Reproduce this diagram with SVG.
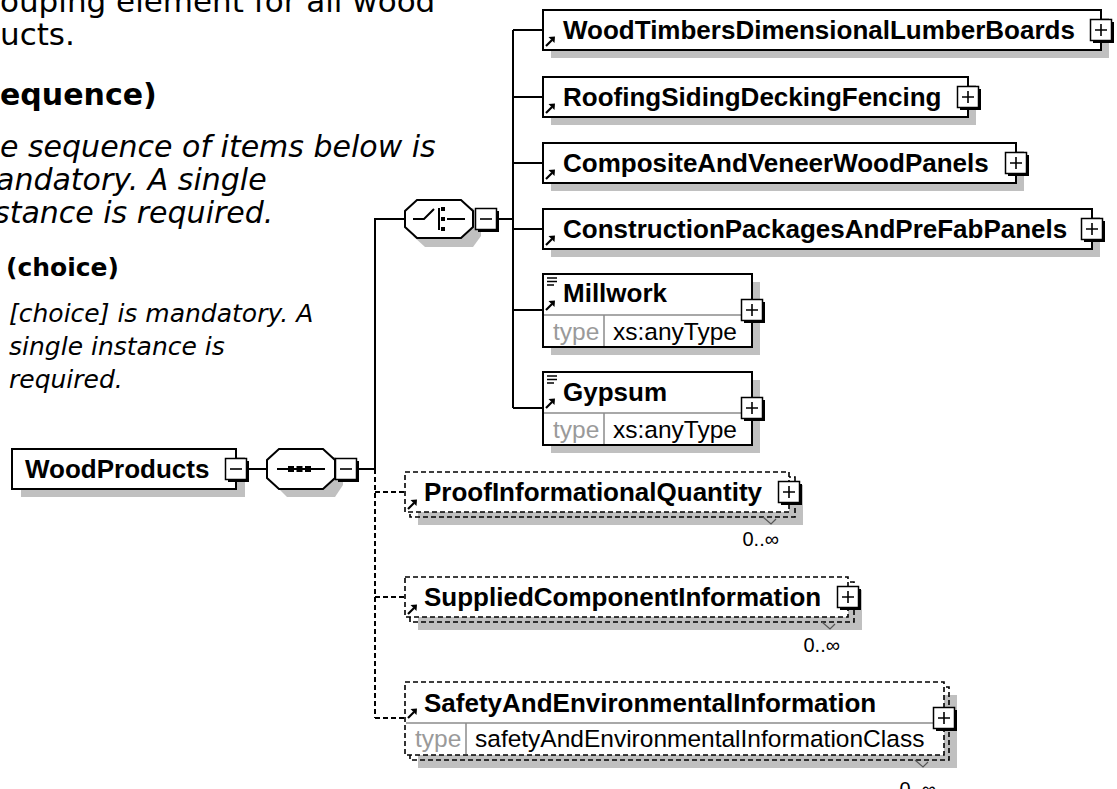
<svg xmlns="http://www.w3.org/2000/svg" width="1117" height="789" viewBox="0 0 1117 789">
<style>
.bg{fill:#fff}
.sh{fill:#c0c0c0}
.box{fill:#fff;stroke:#000;stroke-width:2}
.opt{fill:#fff;stroke:#000;stroke-width:1.6;stroke-dasharray:5 3}
.optb{fill:none;stroke:#000;stroke-width:1.6;stroke-dasharray:5 3}
.div{stroke:#8c8c8c;stroke-width:1.5;fill:none}
.name{font-family:"Liberation Sans",Arial,sans-serif;font-weight:bold;font-size:26px;fill:#000}
.tl{font-family:"Liberation Sans",Arial,sans-serif;font-size:24.5px;fill:#9a9a9a}
.tv{font-family:"Liberation Sans",Arial,sans-serif;font-size:24.5px;fill:#000}
.mul{font-family:"Liberation Sans",Arial,sans-serif;font-size:20px;fill:#000}
.conn{stroke:#000;stroke-width:2;fill:none}
.dash{stroke:#000;stroke-width:2;fill:none;stroke-dasharray:5 3}
.tick{stroke:#555;stroke-width:1.2;fill:none}
.d{font-family:"DejaVu Sans",Verdana,sans-serif;fill:#000}
.d31{font-size:31px}
.d30{font-size:30px}
.d25{font-size:25px}
.b{font-weight:bold}
.i{font-style:italic}
</style>
<defs>
<g id="btn"><rect x="-8" y="-8" width="21" height="21" fill="#000"/><rect x="-10.5" y="-10.5" width="21" height="21" fill="#fff" stroke="#000" stroke-width="1.5"/></g>
<g id="plus"><use href="#btn"/><path d="M-6,0H6M0,-6V6" stroke="#000" stroke-width="1.6"/></g>
<g id="minus"><use href="#btn"/><path d="M-6,0H6" stroke="#000" stroke-width="1.6"/></g>
<g id="arr"><path d="M1,10 L7,4" stroke="#000" stroke-width="2.2"/><path d="M3.5,1 L10,0.5 L9.5,7 Z" fill="#000"/></g>
<g id="doc"><path d="M0,0H10M0,3.5H10M0,7H7" stroke="#000" stroke-width="1.5"/></g>
</defs>
<rect class="bg" x="0" y="0" width="1117" height="789"/>

<g id="description">
<text class="d d31" x="0" y="12">ouping element for all wood</text>
<text class="d d31" x="0" y="45">ucts.</text>
<text class="d d30 b" x="0" y="105">equence)</text>
<text class="d d30 i" x="0" y="157">e sequence of items below is</text>
<text class="d d30 i" x="-4" y="190">andatory. A single</text>
<text class="d d30 i" x="-6" y="223">stance is required.</text>
<text class="d d25 b" x="6" y="276">(choice)</text>
<text class="d d25 i" x="9" y="322">[choice] is mandatory. A</text>
<text class="d d25 i" x="9" y="355">single instance is</text>
<text class="d d25 i" x="9" y="388">required.</text>
</g>

<g id="connectors">
<path class="conn" d="M247,469H267"/>
<path class="conn" d="M357,469H375V219H405"/>
<path class="conn" d="M497,219H513"/>
<path class="conn" d="M513,30V408"/>
<path class="conn" d="M513,30H543M513,97H543M513,163H543M513,229H543M513,310H543M513,408H543"/>
<path class="dash" d="M375,469V718"/>
<path class="dash" d="M375,492H405M375,597H405M375,718H405"/>
</g>

<g id="WoodProducts">
<rect class="sh" x="21" y="457" width="224" height="40"/>
<rect class="box" x="12" y="449" width="224" height="40"/>
<text class="name" x="25" y="478">WoodProducts</text>
<use href="#minus" x="236" y="469"/>
</g>

<g id="sequence">
<path class="sh" d="M287,457H335L343,468V485L335,497H287L275,485V468Z"/>
<path class="box" d="M279,449H323L335,460V478L323,489H279L267,478V460Z"/>
<path d="M277,469H325" stroke="#000" stroke-width="2"/>
<rect x="288" y="466" width="6" height="6" fill="#000"/>
<rect x="296.5" y="466" width="6" height="6" fill="#000"/>
<rect x="305" y="466" width="6" height="6" fill="#000"/>
<use href="#minus" x="346" y="469"/>
</g>

<g id="choice">
<path class="sh" d="M425,208H473L481,219V236L473,247H425L413,236V219Z"/>
<path class="box" d="M417,200H461L473,211V227L461,238H417L405,227V211Z"/>
<path d="M413,219H424L434,209M439,208V230M447,219H465" stroke="#000" stroke-width="2" fill="none"/>
<rect x="441" y="207" width="4" height="4" fill="#000"/>
<rect x="441" y="217" width="4" height="4" fill="#000"/>
<rect x="441" y="227" width="4" height="4" fill="#000"/>
<use href="#minus" x="486" y="219"/>
</g>

<g id="WoodTimbersDimensionalLumberBoards">
<rect class="sh" x="551" y="18" width="558" height="40"/>
<rect class="box" x="543" y="10" width="558" height="40"/>
<use href="#arr" x="545" y="36"/>
<text class="name" x="563" y="39">WoodTimbersDimensionalLumberBoards</text>
<use href="#plus" x="1101" y="30"/>
</g>

<g id="RoofingSidingDeckingFencing">
<rect class="sh" x="551" y="85" width="425" height="40"/>
<rect class="box" x="543" y="77" width="425" height="40"/>
<use href="#arr" x="545" y="103"/>
<text class="name" x="563" y="106">RoofingSidingDeckingFencing</text>
<use href="#plus" x="968" y="97"/>
</g>

<g id="CompositeAndVeneerWoodPanels">
<rect class="sh" x="551" y="151" width="473" height="40"/>
<rect class="box" x="543" y="143" width="473" height="40"/>
<use href="#arr" x="545" y="169"/>
<text class="name" x="563" y="172">CompositeAndVeneerWoodPanels</text>
<use href="#plus" x="1016" y="163"/>
</g>

<g id="ConstructionPackagesAndPreFabPanels">
<rect class="sh" x="551" y="217" width="549" height="40"/>
<rect class="box" x="543" y="209" width="549" height="40"/>
<use href="#arr" x="545" y="235"/>
<text class="name" x="563" y="238">ConstructionPackagesAndPreFabPanels</text>
<use href="#plus" x="1092" y="229"/>
</g>

<g id="Millwork">
<rect class="sh" x="551" y="282" width="209" height="73"/>
<rect class="box" x="543" y="274" width="209" height="73"/>
<path class="div" d="M544,315H751M604,315V346"/>
<use href="#doc" x="547" y="278"/>
<use href="#arr" x="545" y="300"/>
<text class="name" x="563" y="302">Millwork</text>
<text class="tl" x="553" y="340">type</text>
<text class="tv" x="613" y="340">xs:anyType</text>
<use href="#plus" x="752" y="310"/>
</g>

<g id="Gypsum">
<rect class="sh" x="551" y="380" width="209" height="73"/>
<rect class="box" x="543" y="372" width="209" height="73"/>
<path class="div" d="M544,413H751M604,413V444"/>
<use href="#doc" x="547" y="376"/>
<use href="#arr" x="545" y="398"/>
<text class="name" x="563" y="401">Gypsum</text>
<text class="tl" x="553" y="438">type</text>
<text class="tv" x="613" y="438">xs:anyType</text>
<use href="#plus" x="752" y="408"/>
</g>

<g id="ProofInformationalQuantity">
<rect class="sh" x="418" y="485" width="385" height="40"/>
<rect class="optb" x="410" y="477" width="385" height="40"/>
<rect class="opt" x="405" y="472" width="384" height="40"/>
<use href="#arr" x="407" y="499"/>
<text class="name" x="424" y="501">ProofInformationalQuantity</text>
<use href="#plus" x="789" y="492"/>
<path class="tick" d="M763,517L771,524L776,519"/>
<text class="mul" x="779" y="546" text-anchor="end">0..∞</text>
</g>

<g id="SuppliedComponentInformation">
<rect class="sh" x="418" y="590" width="444" height="40"/>
<rect class="optb" x="410" y="582" width="444" height="40"/>
<rect class="opt" x="405" y="577" width="443" height="40"/>
<use href="#arr" x="407" y="604"/>
<text class="name" x="424" y="606">SuppliedComponentInformation</text>
<use href="#plus" x="848" y="597"/>
<path class="tick" d="M822,622L830,629L835,624"/>
<text class="mul" x="840" y="652" text-anchor="end">0..∞</text>
</g>

<g id="SafetyAndEnvironmentalInformation">
<rect class="sh" x="418" y="695" width="539" height="73"/>
<rect class="optb" x="410" y="687" width="539" height="73"/>
<rect class="opt" x="405" y="682" width="539" height="73"/>
<path class="div" d="M406,723H943M466,723V754"/>
<use href="#arr" x="407" y="708"/>
<text class="name" x="424" y="712">SafetyAndEnvironmentalInformation</text>
<text class="tl" x="415" y="747">type</text>
<text class="tv" x="475" y="747">safetyAndEnvironmentalInformationClass</text>
<use href="#plus" x="944" y="718"/>
<path class="tick" d="M915,760L923,767L928,762"/>
<text class="mul" x="936" y="796" text-anchor="end">0..∞</text>
</g>
</svg>
